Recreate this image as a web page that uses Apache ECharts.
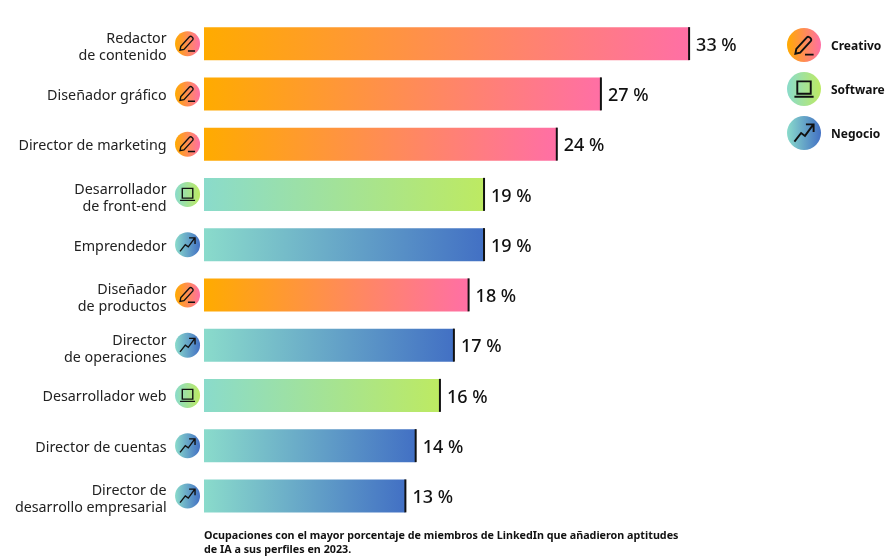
<!DOCTYPE html>
<html>
<head>
<meta charset="utf-8">
<style>
  html, body { margin: 0; padding: 0; background: #fff; }
  #chart { width: 892px; height: 559px; }
</style>
<script src="https://cdn.jsdelivr.net/npm/echarts@6/dist/echarts.min.js"></script>
</head>
<body>
<div id="chart"></div>
<script>
// Datos
const categories = ['Redactor\nde contenido', 'Diseñador gráfico', 'Director de marketing', 'Desarrollador\nde front-end', 'Emprendedor', 'Diseñador\nde productos', 'Director\nde operaciones', 'Desarrollador web', 'Director de cuentas', 'Director de\ndesarrollo empresarial'];
const barValues = [33, 27, 24, 19.05, 19.05, 18, 17, 16.05, 14.4, 13.7];
const valueLabels = ['33 %', '27 %', '24 %', '19 %', '19 %', '18 %', '17 %', '16 %', '14 %', '13 %'];
const barGroups = ['Creativo', 'Creativo', 'Creativo', 'Software', 'Negocio', 'Creativo', 'Negocio', 'Software', 'Negocio', 'Negocio'];
const legendNames = ['Creativo', 'Software', 'Negocio'];
const footnote = 'Ocupaciones con el mayor porcentaje de miembros de LinkedIn que añadieron aptitudes\nde IA a sus perfiles en 2023.';

const FONT = '"Noto Sans", sans-serif';
const AXIS_MIN = -2;
const ICON_X = -1.12; // posición del icono a la izquierda de las barras

const groupColors = {
    Creativo: ['#FFAB00', '#FF6FA5'],
    Software: ['#8ADBCB', '#BDEA62'],
    Negocio: ['#8ADBCB', '#4270C4']
};
const groupIcons = {
    Creativo: 'M3 21 L4 16 L15 4 C17 2 21 6 19 8 L8 20 Z M13 22 L22 22',
    Software: 'M5 4 L19 4 L19 17 L5 17 Z M2 20 L22 20',
    Negocio: 'M2 21 L9 12 L13 15 L21 4 M14 3 L22 3 L22 11'
};

// el componente graphic no tiene tipo "path", hay que registrar cada icono
legendNames.forEach((name) => {
    echarts.graphic.registerShape('icon' + name, echarts.graphic.extendPath(groupIcons[name], {}));
});

function gradient(group) {
    return new echarts.graphic.LinearGradient(0, 0, 1, 0, [
        { offset: 0, color: groupColors[group][0] },
        { offset: 1, color: groupColors[group][1] }
    ]);
}

// Leyenda a la derecha
const legendGraphics = [];
legendNames.forEach((name, i) => {
    const y = 45 + i * 44;
    legendGraphics.push({
        type: 'circle',
        shape: { cx: 804, cy: y, r: 17 },
        style: { fill: gradient(name) }
    });
    legendGraphics.push({
        type: 'icon' + name,
        x: 792.5,
        y: y - 11.5,
        scaleX: 0.96,
        scaleY: 0.96,
        style: { fill: 'none', stroke: '#111', lineWidth: 2 }
    });
    legendGraphics.push({
        type: 'text',
        style: { x: 831, y: y + 1.5, text: name, font: 'bold 12px ' + FONT, fill: '#111', textVerticalAlign: 'middle' }
    });
});

const chart = echarts.init(document.getElementById('chart'), null, { renderer: 'canvas' });

chart.setOption({
    animation: false,
    grid: { left: 174.6, top: 18.5, width: 617.4, height: 502.5, containLabel: false },
    xAxis: { type: 'value', min: AXIS_MIN, max: 40, show: false },
    yAxis: {
        type: 'category',
        inverse: true,
        data: categories,
        axisLine: { show: false },
        axisTick: { show: false },
        axisLabel: { show: false }
    },
    graphic: [
        ...legendGraphics,
        {
            type: 'text',
            style: { x: 204, y: 529, text: footnote, font: 'bold 10.75px ' + FONT, lineHeight: 14, fill: '#111' }
        }
    ],
    series: [
        {
            name: 'barras',
            type: 'bar',
            barWidth: 33,
            data: barValues.map((v, i) => ({ value: v, itemStyle: { color: gradient(barGroups[i]) } }))
        },
        {
            // raya negra al final de cada barra, con la etiqueta de valor
            name: 'final',
            type: 'scatter',
            symbol: 'rect',
            symbolSize: [2, 33],
            itemStyle: { color: '#111', opacity: 1 },
            label: {
                show: true,
                position: 'right',
                distance: 6,
                offset: [0, 2],
                formatter: (p) => valueLabels[p.dataIndex],
                fontFamily: FONT,
                fontSize: 18,
                fontWeight: 500,
                color: '#111'
            },
            data: barValues.map((v, i) => [v, i])
        },
        {
            // nombres de categoría: van aquí porque axisLabel no deja bajarlos
            name: 'nombres',
            type: 'scatter',
            symbolSize: 0,
            clip: false,
            itemStyle: { opacity: 1 },
            label: {
                show: true,
                position: 'left',
                distance: 8,
                align: 'right',
                formatter: (p) => categories[p.dataIndex],
                fontFamily: FONT,
                fontSize: 14.3,
                lineHeight: 17,
                color: '#222'
            },
            data: categories.map((c, i) => ({
                value: [AXIS_MIN, i],
                label: { offset: [0, c.includes('\n') ? 4 : 2] }
            }))
        },
        {
            name: 'circulos',
            type: 'scatter',
            symbol: 'circle',
            symbolSize: 25,
            data: barGroups.map((g, i) => ({ value: [ICON_X, i], itemStyle: { color: gradient(g), opacity: 1 } }))
        },
        {
            name: 'iconos',
            type: 'scatter',
            symbolSize: 15,
            symbolKeepAspect: true,
            itemStyle: { color: 'rgba(0,0,0,0)', borderColor: '#111', borderWidth: 1.4, opacity: 1 },
            data: barGroups.map((g, i) => ({ value: [ICON_X, i], symbol: 'path://' + groupIcons[g] }))
        }
    ]
});
</script>
</body>
</html>
